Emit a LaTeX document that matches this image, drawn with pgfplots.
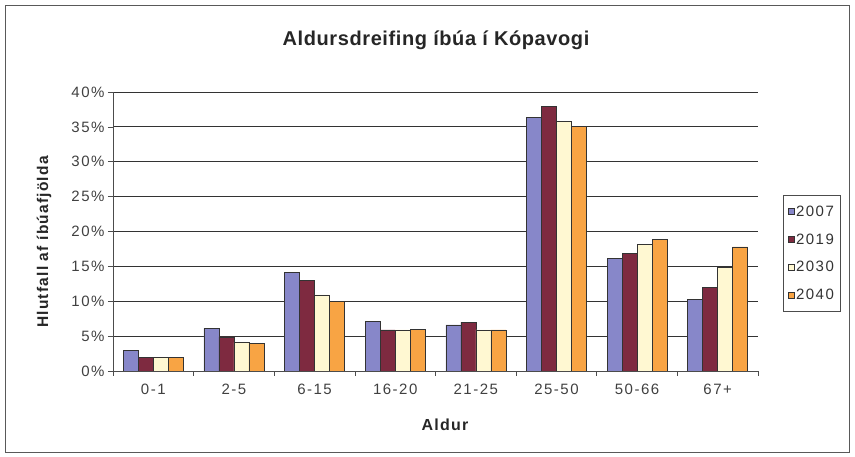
\documentclass[border=0pt]{standalone}
\usepackage{pgfplots}
\pgfplotsset{compat=1.18}
\usepackage{fontspec}
\setmainfont{Liberation Sans}
\newfontfamily\tickfont{Liberation Sans}[LetterSpace=10]
\newfontfamily\titlefont{Liberation Sans}[LetterSpace=3]
\newfontfamily\labfont{Liberation Sans}[LetterSpace=8]
\definecolor{c07}{HTML}{8787C9}
\definecolor{c19}{HTML}{7E2A40}
\definecolor{c30}{HTML}{FFF8D2}
\definecolor{c40}{HTML}{F8A444}
\begin{document}
\begin{tikzpicture}[x=1pt,y=1pt]
\useasboundingbox (-113,-86) rectangle (742,371);
\draw[black!65, line width=0.8pt] (-108,-81) rectangle (736,366);
\node[font=\titlefont\fontsize{20}{23}\selectfont\bfseries, text=black!85] at (323,331) {Aldursdreifing íbúa í Kópavogi};
\node[font=\labfont\fontsize{15.5}{17}\selectfont\bfseries, text=black!85, rotate=90] at (-69,129) {Hlutfall af íbúafjölda};
\node[font=\labfont\fontsize{16}{18}\selectfont\bfseries, text=black!85] at (332,-54) {Aldur};
\begin{axis}[
  at={(0pt,0pt)}, anchor=south west,
  scale only axis, width=645pt, height=279pt,
  ybar=0pt, bar width=15pt,
  xmin=-0.5, xmax=7.5, ymin=0, ymax=40,
  xtick={0,...,7},
  xticklabels={0-1,2-5,6-15,16-20,21-25,25-50,50-66,67+},
  minor xtick={-0.5,0.5,...,7.5},
  major x tick style={draw=none},
  minor x tick style={black!70, line width=0.7pt},
  ytick={0,5,...,40},
  yticklabel={\pgfmathprintnumber{\tick}\%},
  /pgf/number format/assume math mode=true,
  tick align=outside,
  major tick length=5pt, minor tick length=5pt,
  y tick style={black!70, line width=0.7pt},
  ymajorgrids,
  grid style={black!80, line width=0.8pt},
  axis x line*=bottom, axis y line*=left,
  axis line style={-, black!70, line width=0.8pt},
  tick label style={font=\tickfont\fontsize{15}{17}\selectfont, text=black!75},
  xticklabel style={yshift=-4pt},
  every axis plot post/.append style={draw=black!80, line width=0.6pt},
  legend image code/.code={\draw[#1, line width=0.5pt] (0pt,-3pt) rectangle (6pt,3pt);},
  legend style={at={(1.039,0.63)}, anchor=north west, draw=black!70, line width=0.7pt,
    font=\tickfont\fontsize{15}{17}\selectfont, text=black!80, row sep=12pt, inner xsep=4pt, inner ysep=8pt,
    cells={anchor=west}},
  legend cell align=left,
]
\addplot[fill=c07] coordinates {(0,3.0) (1,6.1) (2,14.1) (3,7.1) (4,6.6) (5,36.4) (6,16.1) (7,10.3)};
\addplot[fill=c19] coordinates {(0,2.0) (1,4.9) (2,13.0) (3,5.9) (4,7.0) (5,37.9) (6,16.9) (7,12.0)};
\addplot[fill=c30] coordinates {(0,2.0) (1,4.1) (2,10.9) (3,5.9) (4,5.9) (5,35.8) (6,18.1) (7,14.9)};
\addplot[fill=c40, draw=c40] coordinates {(0,1.9) (1,4.0) (2,10.0) (3,6.0) (4,5.9) (5,35.1) (6,18.9) (7,17.8)};
\legend{2007,2019,2030,2040}
\end{axis}
\end{tikzpicture}
\end{document}
